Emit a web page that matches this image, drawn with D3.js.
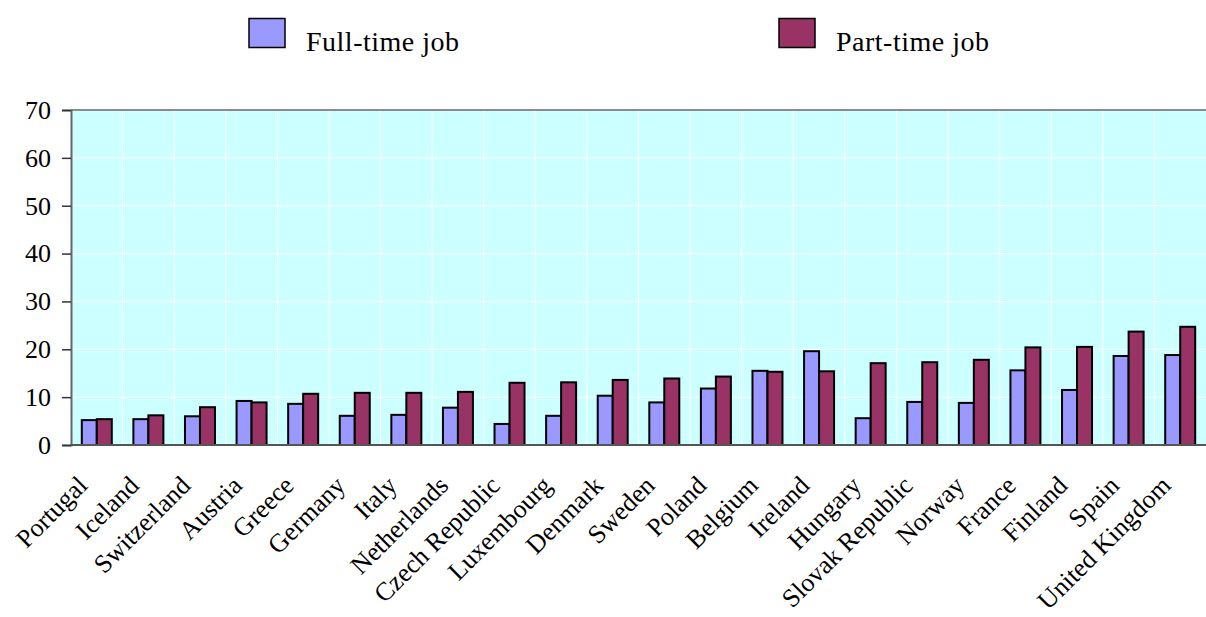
<!DOCTYPE html>
<html><head><meta charset="utf-8">
<script src="https://cdn.jsdelivr.net/npm/d3@7"></script>
<style>body{margin:0;background:#fff}svg{display:block}text{font-family:"Liberation Serif","Times New Roman",serif}</style>
</head><body>
<script>
const countries = ["Portugal","Iceland","Switzerland","Austria","Greece","Germany","Italy","Netherlands","Czech Republic","Luxembourg","Denmark","Sweden","Poland","Belgium","Ireland","Hungary","Slovak Republic","Norway","France","Finland","Spain","United Kingdom"];
const fullTime = [5.2,5.4,6.0,9.2,8.6,6.1,6.3,7.8,4.4,6.1,10.3,8.9,11.8,15.5,19.6,5.6,9.0,8.8,15.6,11.5,18.6,18.8];
const partTime = [5.4,6.2,7.9,8.9,10.7,10.9,10.9,11.1,13.0,13.1,13.6,13.9,14.3,15.3,15.4,17.1,17.3,17.8,20.4,20.5,23.7,24.7];
const seriesNames = ["Full-time job","Part-time job"];
const yTicks = [0,10,20,30,40,50,60,70];

const W=1206,H=617;
const m={left:71,top:110,right:1206,bottom:445};
const font='"Liberation Serif","Times New Roman",serif';
const svg=d3.select("body").append("svg").attr("width",W).attr("height",H);

const x=d3.scaleBand().domain(countries).range([m.left,m.right]);
const xs=d3.scaleBand().domain(seriesNames).range([0,x.bandwidth()]).paddingInner(0).paddingOuter(0.72);
const y=d3.scaleLinear().domain([0,70]).range([m.bottom,m.top]);
const color=d3.scaleOrdinal().domain(seriesNames).range(["#9999FF","#993366"]);

svg.append("rect").attr("x",m.left).attr("y",m.top).attr("width",m.right-m.left).attr("height",m.bottom-m.top).attr("fill","#CCFFFF");
// grid
svg.append("g").selectAll("line").data(yTicks.slice(1,-1)).join("line")
 .attr("x1",m.left).attr("x2",m.right).attr("y1",d=>y(d)).attr("y2",d=>y(d)).attr("stroke","#fff").attr("stroke-width",1);
svg.append("g").selectAll("line").data(countries.slice(1)).join("line")
 .attr("x1",d=>x(d)).attr("x2",d=>x(d)).attr("y1",m.top).attr("y2",m.bottom).attr("stroke","#fff").attr("stroke-width",1);
// top border
svg.append("line").attr("x1",m.left).attr("x2",m.right).attr("y1",m.top).attr("y2",m.top).attr("stroke","#8c8c8c").attr("stroke-width",2);

const data=countries.map((c,i)=>({c,vals:[{s:seriesNames[0],v:fullTime[i]},{s:seriesNames[1],v:partTime[i]}]}));
svg.append("g").selectAll("g").data(data).join("g").attr("transform",d=>`translate(${x(d.c)},0)`)
 .selectAll("rect").data(d=>d.vals).join("rect")
 .attr("x",d=>xs(d.s)).attr("width",xs.bandwidth()).attr("y",d=>y(d.v)).attr("height",d=>y(0)-y(d.v))
 .attr("fill",d=>color(d.s)).attr("stroke","#000").attr("stroke-width",2);

// y axis
const ya=svg.append("g").attr("transform",`translate(${m.left},0)`)
 .call(d3.axisLeft(y).tickValues(yTicks).tickSize(9).tickPadding(11));
ya.attr("font-family",null).attr("font-size",null);
ya.select(".domain").attr("stroke","#666").attr("stroke-width",2);
ya.selectAll(".tick line").attr("stroke","#333").attr("stroke-width",1.5);
ya.selectAll("text").style("font-family",font).style("font-size","26px").attr("fill","#000");

// x axis line
svg.append("line").attr("x1",m.left).attr("x2",m.right).attr("y1",m.bottom).attr("y2",m.bottom).attr("stroke","#555").attr("stroke-width",2);

// x labels
svg.append("g").selectAll("text").data(countries).join("text")
 .attr("transform",d=>`translate(${x(d)+x.bandwidth()/2-8},${m.bottom+42}) rotate(-45)`)
 .attr("text-anchor","end").style("font-family",font).style("font-size","26px").attr("fill","#000").text(d=>d);

// legend
const leg=[{s:seriesNames[0],x:249,tx:306},{s:seriesNames[1],x:779,tx:836}];
const lg=svg.append("g").selectAll("g").data(leg).join("g");
lg.append("rect").attr("x",d=>d.x).attr("y",18.5).attr("width",36).attr("height",29).attr("fill",d=>color(d.s)).attr("stroke","#000").attr("stroke-width",1.5);
lg.append("text").attr("x",d=>d.tx).attr("y",51).style("font-family",font).style("font-size","28px").style("letter-spacing","0.5px").attr("fill","#000").text(d=>d.s);
</script>
</body></html>
